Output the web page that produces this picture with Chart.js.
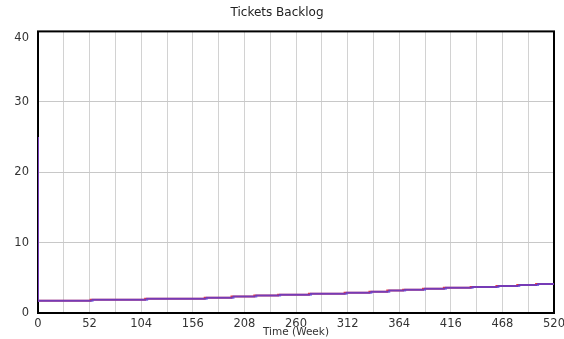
<!DOCTYPE html>
<html>
<head>
<meta charset="utf-8">
<title>Tickets Backlog</title>
<script src="https://cdn.jsdelivr.net/npm/chart.js@4/dist/chart.umd.min.js"></script>
<style>
  html, body { margin: 0; padding: 0; background: #fff; }
  #wrap { width: 564px; height: 339px; }
</style>
</head>
<body>
<div id="wrap"><canvas id="backlogChart" width="564" height="339"></canvas></div>
<script>
// step points of the backlog (weeks where the level changes) and the level after each step
const redWeeks  = [0, 0, 53, 108, 168, 195, 218, 242, 273, 309, 334, 352, 368, 388, 409, 436, 462, 483, 502, 517, 520];
const blueWeeks = [0, 0, 55, 110, 170, 197, 220, 244, 275, 311, 336, 354, 370, 390, 411, 438, 464, 485, 504, 519, 520];
const backlog   = [25, 1.56, 1.75, 1.89, 2.03, 2.17, 2.35, 2.48, 2.6, 2.74, 2.88, 3.03, 3.18, 3.32, 3.45, 3.58, 3.71, 3.85, 3.98, 4.12, 4.12];
const yTicks = [0, 10, 20, 30, 40];

function toPoints(weeks, vals) {
    return weeks.map((w, i) => ({ x: w, y: vals[i] }));
}

// black frame around the plot area
const frame = {
    id: 'frame',
    beforeDatasetsDraw(chart) {
        const a = chart.chartArea;
        const ctx = chart.ctx;
        ctx.save();
        ctx.strokeStyle = '#000';
        ctx.lineWidth = 2;
        ctx.strokeRect(a.left, a.top, a.right - a.left, a.bottom - a.top);
        ctx.restore();
    }
};

const font = 'DejaVu Sans';

new Chart(document.getElementById('backlogChart'), {
    type: 'line',
    data: {
        datasets: [{
            label: 'Tickets Backlog',
            data: toPoints(redWeeks, backlog),
            borderColor: 'rgb(235,60,60)',
            borderWidth: 2,
            stepped: 'after',
            pointRadius: 0,
            fill: false,
            order: 2
        }, {
            label: 'Tickets Backlog 2',
            data: toPoints(blueWeeks, backlog),
            borderColor: 'rgba(70,60,230,0.72)',
            borderWidth: 2,
            stepped: 'after',
            pointRadius: 0,
            fill: false,
            order: 1
        }]
    },
    options: {
        responsive: false,
        animation: false,
        layout: { padding: { left: 0, right: 10, top: 0, bottom: 0 } },
        plugins: {
            legend: { display: false },
            tooltip: { enabled: false },
            title: {
                display: true,
                text: 'Tickets Backlog',
                color: '#222',
                font: { family: font, size: 12, weight: 'normal' },
                padding: { top: 6, bottom: 11 }
            }
        },
        scales: {
            x: {
                type: 'linear',
                min: 0,
                max: 520,
                afterFit: s => { s.height = 26; s.paddingLeft = 0; s.paddingRight = 0; },
                border: { display: false },
                grid: { color: '#d2d2d2', drawTicks: false },
                ticks: {
                    stepSize: 26,
                    autoSkip: false,
                    maxRotation: 0,
                    padding: 4,
                    color: '#333',
                    font: { family: font, size: 11.5 },
                    callback: v => (v % 52 === 0 ? v : '')
                },
                title: {
                    display: true,
                    text: 'Time (Week)',
                    color: '#333',
                    padding: 0,
                    font: { family: font, size: 10.5 }
                }
            },
            y: {
                min: 0,
                max: 40,
                afterFit: s => { s.width = 38; },
                afterBuildTicks: s => { s.ticks = yTicks.map(v => ({ value: v })); },
                border: { display: false },
                grid: { color: '#c8c8c8', drawTicks: false },
                ticks: {
                    padding: 9,
                    color: '#333',
                    font: { family: font, size: 11.5 },
                    // nudge the top label below the frame line
                    callback: v => (v === 40 ? ['', '40'] : v)
                }
            }
        }
    },
    plugins: [frame]
});
</script>
</body>
</html>
